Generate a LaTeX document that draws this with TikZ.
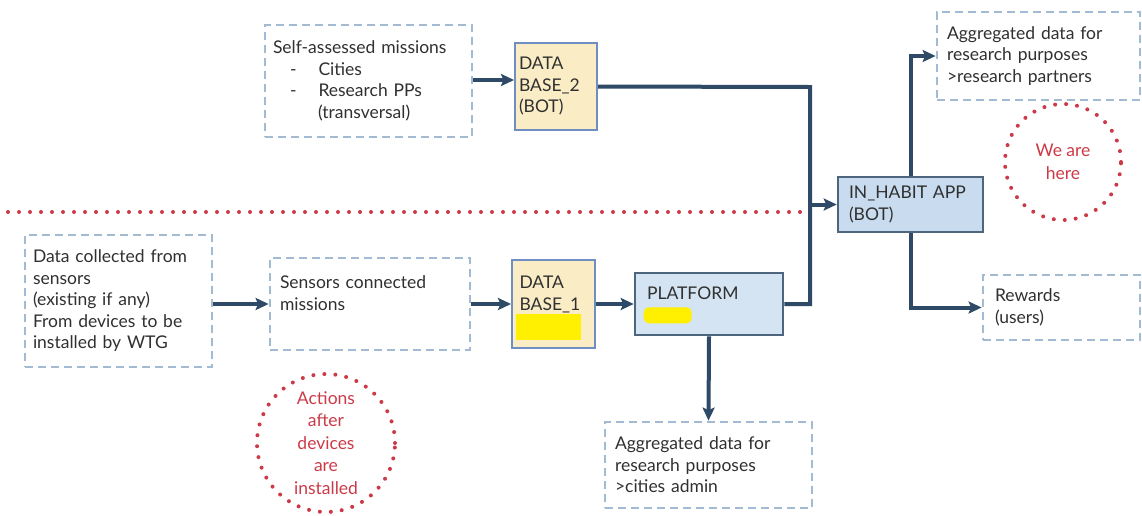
\documentclass[tikz,border=0pt]{standalone}
\usepackage{fontspec}
\setmainfont{Lato}
\usetikzlibrary{arrows.meta}
\definecolor{txt}{HTML}{303030}
\definecolor{dashc}{HTML}{A3BAD3}
\definecolor{navy}{HTML}{2E4A66}
\definecolor{dbfill}{HTML}{FAEDC6}
\definecolor{dbline}{HTML}{6F8FC2}
\definecolor{appfill}{HTML}{C9DCEF}
\definecolor{platfill}{HTML}{D5E4F2}
\definecolor{redc}{HTML}{CC3A48}
\definecolor{hl}{HTML}{FFEF00}
\tikzset{
  base/.style={font=\fontsize{17.5}{21.5}\selectfont, text=txt, align=left, inner sep=0pt},
  dbox/.style={base, draw=dashc, line width=2.8pt, dash pattern=on 8pt off 5pt},
  dbbox/.style={base, draw=dbline, fill=dbfill, line width=2pt},
  bluebox/.style={base, draw=navy!85, fill=appfill, line width=2.6pt},
  arr/.style={draw=navy, line width=4pt, -{Stealth[length=13pt,width=12pt,inset=2.5pt]}},
  ln/.style={draw=navy, line width=4pt},
  redcirc/.style={circle, draw=redc, line width=4pt, dash pattern=on 0pt off 11pt, line cap=round,
    text=redc, font=\fontsize{17.5}{22.5}\selectfont, align=center, inner sep=0pt},
}
\begin{document}
\begin{tikzpicture}[x=1pt,y=-1pt]
\useasboundingbox (0,0) rectangle (1142,515);
\fill[white] (0,0) rectangle (1142,515);

% red dotted separator
\draw[redc, line width=4pt, dash pattern=on 0pt off 11pt, line cap=round] (8,212) -- (806,212);

% boxes
\node[dbox, minimum width=207pt, minimum height=112pt, text width=191pt] (self) at (368.5,81)
  {Self-assessed missions\\
   \hspace*{17pt}-\hspace{22pt}Cities\\
   \hspace*{17pt}-\hspace{22pt}Research PPs\\
   \hspace*{45pt}(transversal)};
\node[dbbox, minimum width=82pt, minimum height=87pt, text width=74pt] (db2) at (556,86.5)
  {DATA\\BASE\_2\\(BOT)};
\node[dbox, minimum width=203pt, minimum height=88pt, text width=183pt] (aggr) at (1038.5,56)
  {Aggregated data for\\research purposes\\>research partners};
\node[bluebox, minimum width=145pt, minimum height=55pt, text width=123pt] (app) at (910.5,204.5)
  {IN\_HABIT APP\\(BOT)};
\node[dbox, minimum width=157pt, minimum height=65pt, text width=133pt] (rewards) at (1061.5,307.5)
  {Rewards\\(users)};
\node[dbox, minimum width=187pt, minimum height=132pt, text width=171pt] (data) at (118.5,301)
  {Data collected from\\sensors\\(existing if any)\\From devices to be\\installed by WTG};
\node[dbox, minimum width=200pt, minimum height=92pt, text width=180pt] (sensors) at (370,304)
  {Sensors connected\\missions\\\mbox{}};
\node[dbbox, minimum width=83pt, minimum height=88pt, text width=68pt] (db1) at (553.5,304)
  {DATA\\BASE\_1\\\mbox{}};
\node[bluebox, fill=platfill, minimum width=148pt, minimum height=62pt, text width=124pt] (platform) at (709,304)
  {PLATFORM\\\mbox{}};
\node[dbox, minimum width=207pt, minimum height=86pt, text width=187pt] (aggc) at (708.5,465)
  {Aggregated data for\\research purposes\\>cities admin};

% highlights
\fill[hl] ([xshift=5pt,yshift=9pt]db1.south west) rectangle ([xshift=70pt,yshift=35pt]db1.south west);
\fill[hl, rounded corners=5pt] ([xshift=10pt,yshift=13pt]platform.south west) rectangle ([xshift=58pt,yshift=29pt]platform.south west);

% red circles
\node[redcirc, minimum size=116pt] (here) at (1063,162) {We are\\here};
\node[redcirc, minimum size=138pt] (actions) at (326,443) {Actions\\after\\devices\\are\\installed};

% connectors
\coordinate (jt) at (810,87);
\draw[arr] (self.east |- 0,80) -- (db2.west |- 0,80);
\draw[ln] (db2.east) -- (jt) -- (platform.east -| jt) -- (platform.east);
\draw[arr] (app.west -| jt) -- (app.west);
\draw[arr] (app.north) |- (aggr.west);
\draw[arr] (app.south) |- (rewards.west);
\draw[arr] (platform.south) -- (aggc.north);
\draw[arr] (data.east |- sensors.west) -- (sensors.west);
\draw[arr] (sensors.east) -- (db1.west);
\draw[arr] (db1.east) -- (platform.west);
\end{tikzpicture}
\end{document}
